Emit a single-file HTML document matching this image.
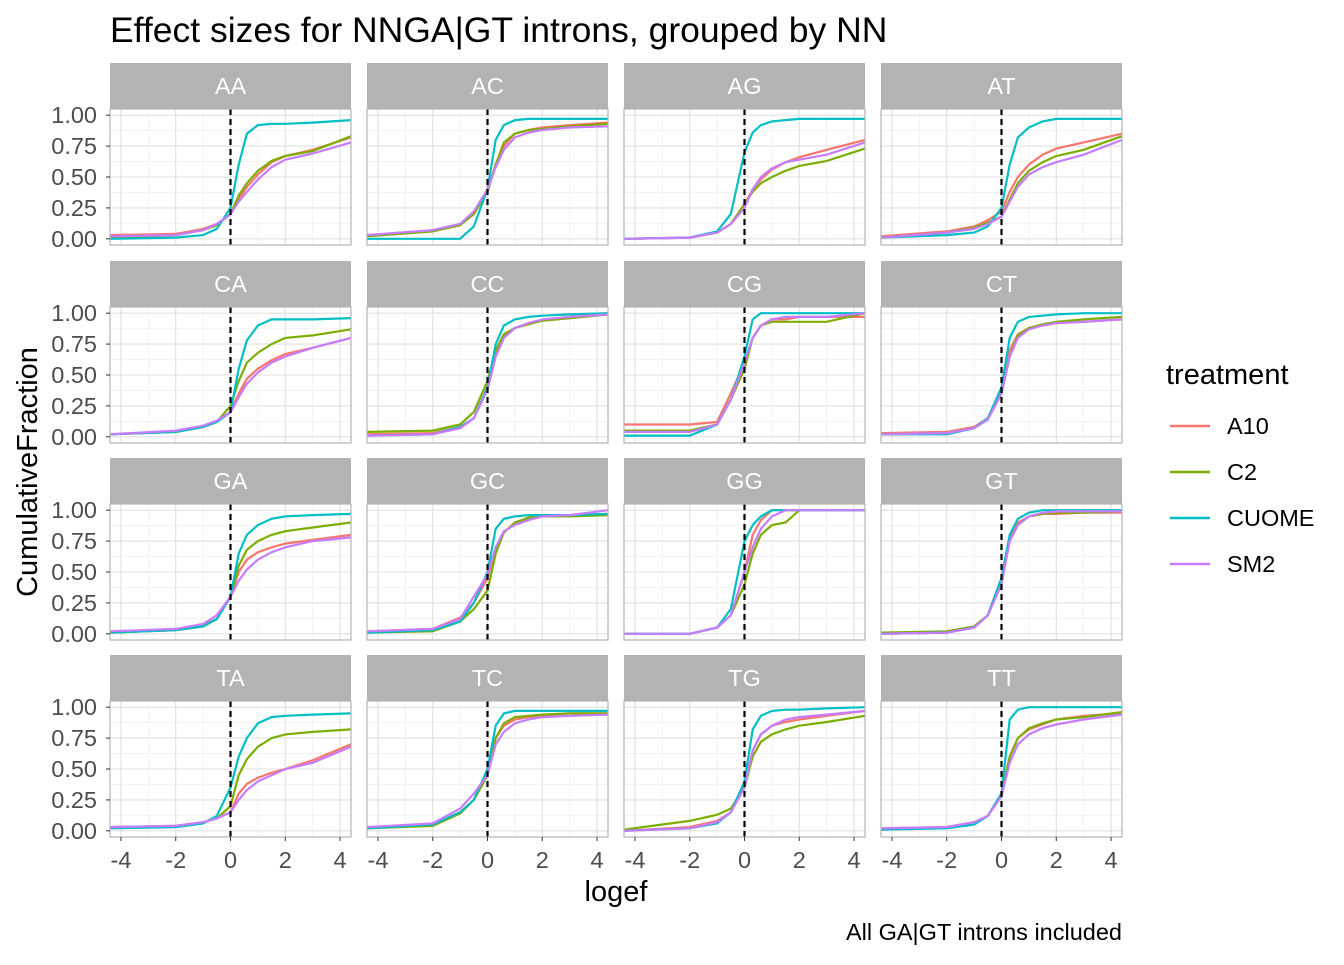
<!DOCTYPE html>
<html><head><meta charset="utf-8"><style>
body{margin:0;background:#fff;font-family:"Liberation Sans",sans-serif;}
svg text{font-family:"Liberation Sans",sans-serif;}
</style></head><body>
<svg id="c" width="1344" height="960" xmlns="http://www.w3.org/2000/svg">
<rect width="1344" height="960" fill="#fff"/>
<text x="110" y="42" font-size="35.5" fill="#000">Effect sizes for NNGA|GT introns, grouped by NN</text>
<text x="616" y="901" font-size="29" text-anchor="middle" fill="#000">logef</text>
<text transform="translate(37,472) rotate(-90)" font-size="29" text-anchor="middle" fill="#000">CumulativeFraction</text>
<text x="1122" y="940" font-size="23.5" text-anchor="end" fill="#000">All GA|GT introns included</text>
<text x="1166" y="384" font-size="29" fill="#000">treatment</text>
</svg>
<script>
const facets=["AA","AC","AG","AT","CA","CC","CG","CT","GA","GC","GG","GT","TA","TC","TG","TT"];
const series=["A10","C2","CUOME","SM2"];
const xPoints=[-4.4,-2,-1,-0.5,0,0.3,0.6,1,1.5,2,3,4.4];
const xTicks=[-4,-2,0,2,4];
const yTicks=[0,0.25,0.5,0.75,1];
const yTickLabels=["0.00","0.25","0.50","0.75","1.00"];
const dA10=[
[0.03,0.04,0.08,0.12,0.2,0.32,0.42,0.52,0.62,0.67,0.72,0.82],
[0.03,0.07,0.12,0.2,0.4,0.6,0.75,0.85,0.88,0.9,0.92,0.94],
[0,0.01,0.05,0.12,0.28,0.4,0.48,0.56,0.62,0.66,0.72,0.8],
[0.02,0.06,0.1,0.15,0.22,0.38,0.5,0.6,0.68,0.73,0.78,0.85],
[0.02,0.04,0.08,0.12,0.2,0.35,0.47,0.55,0.62,0.67,0.72,0.8],
[0.02,0.03,0.08,0.15,0.4,0.68,0.82,0.88,0.92,0.94,0.96,0.99],
[0.1,0.1,0.12,0.35,0.6,0.8,0.9,0.95,0.95,0.97,0.97,0.97],
[0.03,0.04,0.08,0.15,0.4,0.7,0.83,0.88,0.9,0.92,0.93,0.95],
[0.01,0.03,0.07,0.12,0.3,0.5,0.6,0.66,0.7,0.73,0.76,0.8],
[0.02,0.04,0.13,0.25,0.45,0.7,0.82,0.9,0.93,0.95,0.96,0.97],
[0,0,0.05,0.15,0.5,0.8,0.92,1,1,1,1,1],
[0,0.01,0.05,0.15,0.45,0.78,0.9,0.95,0.97,0.97,0.98,0.98],
[0.03,0.04,0.07,0.1,0.15,0.3,0.38,0.43,0.47,0.5,0.57,0.7],
[0.03,0.05,0.15,0.25,0.45,0.75,0.85,0.9,0.92,0.93,0.95,0.95],
[0,0.03,0.08,0.15,0.38,0.65,0.78,0.85,0.88,0.9,0.93,0.97],
[0.02,0.03,0.07,0.12,0.3,0.6,0.75,0.82,0.86,0.9,0.93,0.95]];
const dC2=[
[0.01,0.03,0.07,0.11,0.2,0.35,0.45,0.55,0.63,0.67,0.71,0.83],
[0.02,0.06,0.11,0.2,0.38,0.6,0.78,0.85,0.88,0.89,0.91,0.93],
[0,0.01,0.05,0.12,0.28,0.38,0.45,0.5,0.55,0.59,0.63,0.73],
[0.01,0.05,0.09,0.13,0.18,0.32,0.45,0.55,0.62,0.67,0.72,0.83],
[0.02,0.04,0.08,0.12,0.25,0.45,0.6,0.68,0.75,0.8,0.82,0.87],
[0.04,0.05,0.1,0.2,0.45,0.7,0.83,0.88,0.91,0.94,0.96,0.99],
[0.05,0.05,0.1,0.3,0.55,0.8,0.9,0.93,0.93,0.93,0.93,1],
[0.02,0.03,0.07,0.14,0.35,0.65,0.82,0.88,0.91,0.93,0.95,0.97],
[0.01,0.03,0.06,0.12,0.3,0.55,0.68,0.75,0.8,0.83,0.86,0.9],
[0.01,0.02,0.1,0.2,0.35,0.65,0.82,0.9,0.94,0.95,0.95,0.96],
[0,0,0.05,0.15,0.4,0.65,0.8,0.88,0.9,1,1,1],
[0.01,0.02,0.06,0.15,0.45,0.75,0.88,0.95,0.97,0.98,0.98,0.99],
[0.03,0.04,0.07,0.1,0.2,0.45,0.58,0.68,0.75,0.78,0.8,0.82],
[0.02,0.04,0.14,0.25,0.45,0.75,0.87,0.92,0.93,0.94,0.95,0.95],
[0.01,0.08,0.13,0.18,0.35,0.6,0.72,0.78,0.82,0.85,0.88,0.93],
[0.01,0.03,0.07,0.12,0.3,0.6,0.75,0.83,0.87,0.9,0.92,0.96]];
const dCUOME=[
[0,0.01,0.03,0.08,0.25,0.6,0.85,0.92,0.93,0.93,0.94,0.96],
[0,0,0,0.1,0.4,0.8,0.92,0.96,0.97,0.97,0.97,0.97],
[0,0.01,0.06,0.2,0.7,0.86,0.92,0.95,0.96,0.97,0.97,0.97],
[0.01,0.03,0.05,0.1,0.25,0.6,0.82,0.9,0.95,0.97,0.97,0.97],
[0.02,0.04,0.08,0.12,0.2,0.55,0.78,0.9,0.95,0.95,0.95,0.96],
[0.01,0.02,0.08,0.15,0.4,0.75,0.9,0.95,0.97,0.98,0.99,1],
[0.01,0.01,0.1,0.3,0.65,0.95,1,1,1,1,1,1],
[0.02,0.02,0.07,0.15,0.4,0.8,0.93,0.97,0.98,0.99,1,1],
[0.01,0.03,0.06,0.12,0.3,0.65,0.8,0.88,0.93,0.95,0.96,0.97],
[0.01,0.03,0.1,0.25,0.5,0.85,0.93,0.95,0.96,0.96,0.96,0.97],
[0,0,0.05,0.2,0.75,0.88,0.95,1,1,1,1,1],
[0,0.01,0.05,0.15,0.45,0.8,0.93,0.98,1,1,1,1],
[0.02,0.03,0.06,0.12,0.35,0.6,0.75,0.87,0.92,0.93,0.94,0.95],
[0.02,0.05,0.15,0.25,0.5,0.85,0.95,0.97,0.97,0.97,0.97,0.97],
[0,0.02,0.06,0.15,0.4,0.82,0.93,0.97,0.98,0.98,0.99,1],
[0.01,0.02,0.05,0.12,0.3,0.9,0.98,1,1,1,1,1]];
const dSM2=[
[0.02,0.03,0.07,0.12,0.2,0.3,0.38,0.48,0.58,0.64,0.69,0.78],
[0.03,0.07,0.12,0.22,0.4,0.58,0.72,0.82,0.86,0.88,0.9,0.91],
[0,0.01,0.05,0.12,0.25,0.4,0.5,0.57,0.62,0.64,0.68,0.78],
[0.01,0.05,0.08,0.12,0.18,0.3,0.42,0.52,0.58,0.62,0.68,0.8],
[0.02,0.05,0.09,0.13,0.2,0.32,0.43,0.52,0.6,0.65,0.72,0.8],
[0.01,0.02,0.07,0.15,0.38,0.65,0.8,0.88,0.92,0.95,0.97,0.99],
[0.04,0.04,0.1,0.3,0.6,0.8,0.9,0.95,0.97,0.97,0.97,1],
[0.02,0.03,0.07,0.14,0.35,0.65,0.8,0.87,0.9,0.92,0.93,0.95],
[0.02,0.04,0.08,0.15,0.3,0.43,0.52,0.6,0.66,0.7,0.75,0.78],
[0.02,0.04,0.12,0.3,0.48,0.7,0.83,0.88,0.92,0.95,0.96,1],
[0,0,0.05,0.15,0.5,0.7,0.85,0.95,1,1,1,1],
[0,0.01,0.05,0.15,0.4,0.75,0.88,0.95,0.98,0.99,0.99,0.99],
[0.03,0.04,0.07,0.1,0.15,0.25,0.33,0.4,0.45,0.5,0.55,0.68],
[0.03,0.06,0.18,0.3,0.45,0.7,0.8,0.87,0.9,0.92,0.93,0.94],
[0,0.02,0.07,0.15,0.35,0.65,0.78,0.85,0.9,0.92,0.94,0.97],
[0.02,0.03,0.07,0.12,0.28,0.55,0.7,0.78,0.83,0.86,0.9,0.94]];
const seriesData=[dA10,dC2,dCUOME,dSM2];
const colors=["#F8766D","#7CAE00","#00BFC4","#C77CFF"];

const svg=document.getElementById('c');
const NS="http://www.w3.org/2000/svg";
function mk(tag,attrs,parent){const e=document.createElementNS(NS,tag);for(const k in attrs)e.setAttribute(k,attrs[k]);(parent||svg).appendChild(e);return e;}
const colL=[110,367,624,881],stripT=[63,261,458,655],PW=241,SH=46,PH=136;
const xmin=-4.4,xmax=4.4,ymin=-0.05,ymax=1.05;

facets.forEach((f,i)=>{
  const c=i%4,r=Math.floor(i/4);
  const L=colL[c],T=stripT[r]+SH;
  const sx=v=>L+(v-xmin)/(xmax-xmin)*PW;
  const sy=v=>T+PH-(v-ymin)/(ymax-ymin)*PH;
  const g=mk('g',{});
  
  
  const st=mk('rect',{x:L,y:stripT[r],width:PW,height:SH,fill:'#B3B3B3'},g);
  
  
  const stt=mk('text',{x:L+PW/2,y:stripT[r]+31,'font-size':23.5,fill:'#fff','text-anchor':'middle'},g);
  stt.textContent=f;
  
  
  for(let k=0;k<xTicks.length-1;k++){const v=(xTicks[k]+xTicks[k+1])/2;mk('line',{x1:sx(v),x2:sx(v),y1:T,y2:T+PH,stroke:'#F2F2F2','stroke-width':1},g);}
  for(let k=0;k<yTicks.length-1;k++){const v=(yTicks[k]+yTicks[k+1])/2;mk('line',{x1:L,x2:L+PW,y1:sy(v),y2:sy(v),stroke:'#F2F2F2','stroke-width':1},g);}
  xTicks.forEach(v=>mk('line',{x1:sx(v),x2:sx(v),y1:T,y2:T+PH,stroke:'#E0E0E0','stroke-width':1.1},g));
  yTicks.forEach(v=>mk('line',{x1:L,x2:L+PW,y1:sy(v),y2:sy(v),stroke:'#E0E0E0','stroke-width':1.1},g));
  seriesData.forEach((sd,s)=>{
    const pts=xPoints.map((x,k)=>sx(x).toFixed(1)+','+sy(sd[i][k]).toFixed(1)).join(' ');
    const pl=mk('polyline',{points:pts,fill:'none',stroke:colors[s],'stroke-width':2.2},g);
    
    
  });
  mk('line',{x1:sx(0),x2:sx(0),y1:T,y2:T+PH,stroke:'#000','stroke-width':2.2,'stroke-dasharray':'6,4'},g);
  mk('rect',{x:L,y:T,width:PW,height:PH,fill:'none',stroke:'#B3B3B3','stroke-width':1.2},g);
  if(c===0){
    yTicks.forEach((v,k)=>{
      mk('line',{x1:L-4,x2:L,y1:sy(v),y2:sy(v),stroke:'#333','stroke-width':1},g);
      const t=mk('text',{x:L-13,y:sy(v)+8,'font-size':23.5,fill:'#4D4D4D','text-anchor':'end'},g);
      t.textContent=yTickLabels[k];
      
      
    });
  }
  if(r===3){
    xTicks.forEach(v=>{
      mk('line',{x1:sx(v),x2:sx(v),y1:T+PH,y2:T+PH+4,stroke:'#333','stroke-width':1},g);
      const t=mk('text',{x:sx(v),y:T+PH+31,'font-size':23.5,fill:'#4D4D4D','text-anchor':'middle'},g);
      t.textContent=String(v);
      
      
    });
  }
});
series.forEach((s,k)=>{
  const y=426+k*46;
  const g=mk('g',{});
  
  
  mk('line',{x1:1170,x2:1210,y1:y,y2:y,stroke:colors[k],'stroke-width':2.5},g);
  const t=mk('text',{x:1227,y:y+8,'font-size':23.5,fill:'#000'},g);
  t.textContent=s;
});
</script>
</body></html>
